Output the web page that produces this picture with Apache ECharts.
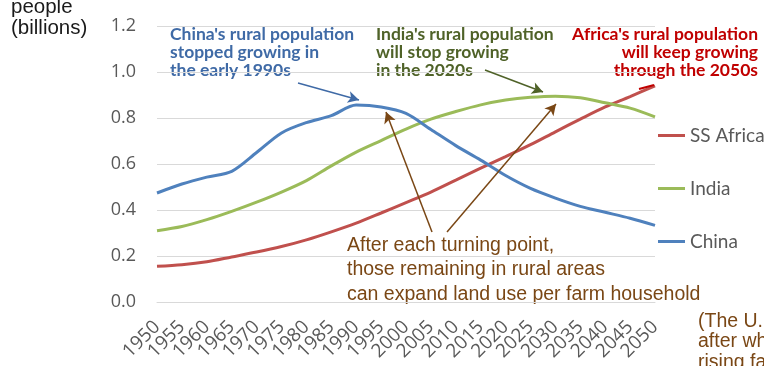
<!DOCTYPE html>
<html>
<head>
<meta charset="utf-8">
<script src="https://cdn.jsdelivr.net/npm/echarts@6/dist/echarts.min.js"></script>
<style>
  html, body { margin: 0; padding: 0; background: #fff; }
  #chart { width: 764px; height: 366px; }
</style>
</head>
<body>
<div id="chart"></div>
<script>
// Rural population, billions of people, 1950-2050
const years = ['1950','1955','1960','1965','1970','1975','1980','1985','1990','1995','2000',
               '2005','2010','2015','2020','2025','2030','2035','2040','2045','2050'];
const ssAfrica = [0.155,0.162,0.175,0.196,0.217,0.241,0.27,0.305,0.343,0.387,0.432,
                  0.478,0.53,0.582,0.632,0.684,0.74,0.795,0.848,0.893,0.94];
const india = [0.31,0.328,0.358,0.394,0.434,0.478,0.528,0.592,0.652,0.702,0.752,
               0.795,0.828,0.857,0.878,0.89,0.895,0.888,0.866,0.843,0.805];
const china = [0.474,0.513,0.543,0.568,0.65,0.735,0.78,0.81,0.856,0.848,0.82,
               0.75,0.68,0.617,0.55,0.494,0.452,0.416,0.39,0.364,0.333];
const yTicks = { min: 0, max: 1.2, interval: 0.2 };

const COL_AFRICA = '#C0504D', COL_INDIA = '#9BBB59', COL_CHINA = '#4F81BD';
const NOTE_BLUE = '#3F6AA6', NOTE_GREEN = '#4F6228', NOTE_RED = '#C00000', NOTE_BROWN = '#7A4715';

const chart = echarts.init(document.getElementById('chart'), null, { renderer: 'canvas' });

function legendAt(name, top) {
  return {
    data: [name], left: 658, top: top, padding: 0,
    icon: 'rect', itemWidth: 27, itemHeight: 3,
    textStyle: { color: '#595959', fontSize: 19, fontFamily: 'Lato' },
    selectedMode: false
  };
}

function arrow(from, to, color) {
  return [
    { x: from[0], y: from[1], lineStyle: { color: color, width: 1.5, type: 'solid' } },
    { x: to[0], y: to[1] }
  ];
}

// one text line per element so right-aligned blocks line up on their right edge
function noteLines(lines, x, y, color, align) {
  return lines.map((t, i) => ({
    type: 'text', x: x, y: y + i * 18, silent: true,
    style: { text: t, fill: color, font: 'bold 17.5px Lato', align: align, verticalAlign: 'middle' }
  }));
}

chart.setOption({
  animation: false,
  grid: { left: 157, right: 109, top: 26, bottom: 64 },
  legend: [legendAt('SS Africa', 126), legendAt('India', 179), legendAt('China', 232)],
  xAxis: {
    type: 'category', data: years, boundaryGap: false,
    axisLine: { lineStyle: { color: '#D9D9D9', width: 1 } },
    axisTick: { show: false },
    axisLabel: {
      interval: 0, rotate: 45, margin: 22,
      color: '#595959', fontSize: 19, fontFamily: 'Open Sans'
    }
  },
  yAxis: {
    type: 'value', min: yTicks.min, max: yTicks.max, interval: yTicks.interval,
    axisLine: { show: false }, axisTick: { show: false },
    splitLine: { lineStyle: { color: '#D9D9D9', width: 1 } },
    axisLabel: {
      margin: 21, color: '#595959', fontSize: 18, fontFamily: 'Open Sans',
      formatter: v => v.toFixed(1)
    }
  },
  series: [
    { name: 'SS Africa', type: 'line', data: ssAfrica, smooth: 0.3, showSymbol: false,
      color: COL_AFRICA, lineStyle: { width: 3 } },
    { name: 'India', type: 'line', data: india, smooth: 0.3, showSymbol: false,
      color: COL_INDIA, lineStyle: { width: 3 } },
    { name: 'China', type: 'line', data: china, smooth: 0.3, showSymbol: false,
      color: COL_CHINA, lineStyle: { width: 3 },
      markLine: {
        silent: true, symbol: ['none', 'arrow'], symbolSize: [9, 11],
        label: { show: false }, emphasis: { disabled: true },
        data: [
          arrow([298, 83], [359, 100], NOTE_BLUE),
          arrow([485, 70], [543, 92], NOTE_GREEN),
          arrow([432, 232], [386, 112], NOTE_BROWN),
          arrow([447, 232], [556, 104], NOTE_BROWN),
          [
            { x: 654, y: 85, symbol: 'none', lineStyle: { color: NOTE_RED, width: 2, type: 'solid' } },
            { x: 639, y: 89, symbol: 'none' }
          ]
        ]
      }
    }
  ],
  graphic: [
    { type: 'text', left: 11, top: -3, silent: true,
      style: { text: 'people\n(billions)', fill: '#1a1a1a', font: '20.5px "Liberation Sans"', lineHeight: 21 } }
  ].concat(
    noteLines(["China's rural population", 'stopped growing in', 'the early 1990s'], 170, 34, NOTE_BLUE, 'left'),
    noteLines(["India's rural population", 'will stop growing', 'in the 2020s'], 376, 34, NOTE_GREEN, 'left'),
    noteLines(["Africa's rural population", 'will keep growing', 'through the 2050s'], 758, 34, NOTE_RED, 'right'),
    [
      { type: 'text', left: 347, top: 233, silent: true,
        style: { text: 'After each turning point,\nthose remaining in rural areas\ncan expand land use per farm household',
                 fill: NOTE_BROWN, font: '19.5px "Liberation Sans"', lineHeight: 24.5 } },
      { type: 'text', left: 698, top: 311, silent: true,
        style: { text: '(The U.\nafter wh\nrising fa',
                 fill: NOTE_BROWN, font: '19.5px "Liberation Sans"', lineHeight: 20.5 } }
    ]
  )
});
</script>
</body>
</html>
